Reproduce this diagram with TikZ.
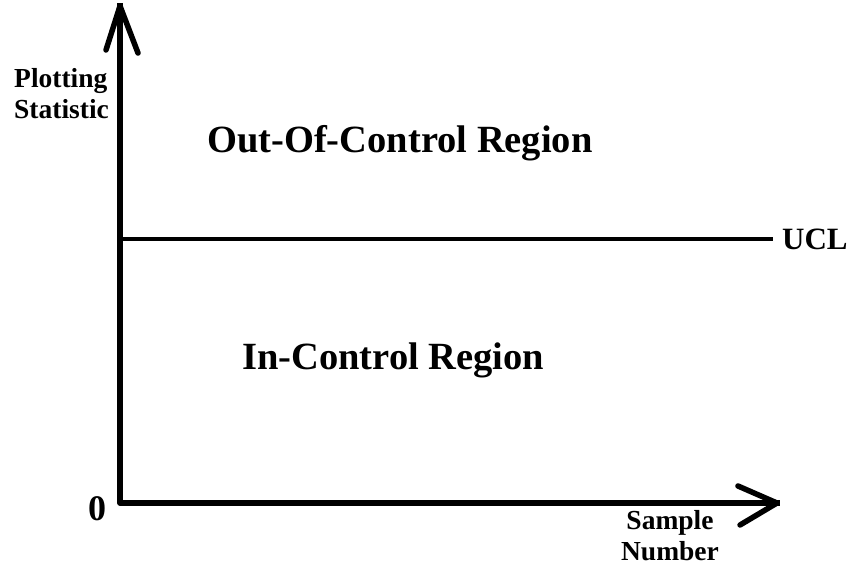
\documentclass[tikz,border=0pt]{standalone}
\usepackage{fontspec}
\setmainfont{Liberation Serif}
\begin{document}
\begin{tikzpicture}[x=1pt,y=-1pt,
  axis/.style={line width=5.5pt,line cap=round,line join=round},
  biglabel/.style={font=\bfseries\fontsize{38.5}{44}\selectfont,inner sep=0pt,anchor=base west},
  smalllabel/.style={font=\bfseries\fontsize{27.5}{31}\selectfont,inner sep=0pt,align=left}]
\useasboundingbox (0,0) rectangle (853,567);
\coordinate (O) at (120,503);
\coordinate (ytip) at (120,6);
\coordinate (yl) at (106,50);
\coordinate (yr) at (138,53);
\coordinate (xtip) at (777,503);
\coordinate (xu) at (738,486);
\coordinate (xd) at (740,525);
\coordinate (ucl0) at (120,239);
\draw[axis,line cap=rect] (ytip) -- (O) -- (xtip);
\draw[axis] (yl) -- (ytip) -- (yr);
\draw[axis] (xu) -- (xtip) -- (xd);
\node[font=\bfseries\fontsize{31}{36}\selectfont,inner sep=0pt,anchor=west] (ucl) at (782,239) {UCL};
\draw[line width=3.2pt] (ucl0) -- ([xshift=-9pt]ucl.west);
\node[biglabel] (out) at (207,152) {Out-Of-Control Region};
\node[biglabel] (in) at (242,369) {In-Control Region};
\node[smalllabel,anchor=base west] (ps) at (14,118) {Plotting\\Statistic};
\node[smalllabel,align=center,anchor=base] (sn) at (670,560) {Sample\\Number};
\node[font=\bfseries\fontsize{36}{40}\selectfont,inner sep=0pt,anchor=base] (zero) at (97,520) {0};
\end{tikzpicture}
\end{document}
